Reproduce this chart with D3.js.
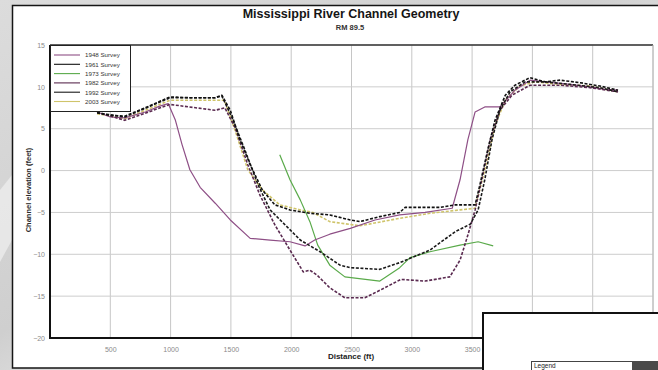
<!DOCTYPE html>
<html><head><meta charset="utf-8">
<script src="https://cdn.jsdelivr.net/npm/d3@7"></script>
<style>
html,body{margin:0;padding:0;}
body{width:658px;height:370px;overflow:hidden;background:#d4d4d4;}
svg{display:block;font-family:"Liberation Sans",Arial,sans-serif;}
</style></head><body>
<svg id="chart" width="658" height="370"></svg>
<script>
// Survey cross-sections: [distance (ft), channel elevation (ft)]
const seriesNames = ["1948 Survey", "1961 Survey", "1973 Survey", "1982 Survey", "1992 Survey", "2003 Survey"];
const seriesColors = ["#8e4f86", "#111111", "#5aaa4a", "#5a2a50", "#1a1a1a", "#cfc46a"];
const seriesDash = [null, "3,1.6", null, "3,1.6", "3,1.6", "3,1.6"];

const survey1948 = [[390,7.0],[500,6.4],[620,6.3],[790,7.0],[910,7.7],[980,8.0],[1040,6.0],[1095,3.1],[1160,0.1],[1245,-2.0],[1370,-3.9],[1495,-5.9],[1660,-8.1],[1825,-8.3],[1990,-8.5],[2115,-9.0],[2195,-8.3],[2320,-7.6],[2490,-6.9],[2695,-5.9],[2900,-5.3],[3110,-5.0],[3335,-4.5],[3400,-1.1],[3465,3.7],[3525,7.0],[3605,7.6],[3730,7.6],[3855,9.6],[3980,10.8],[4105,10.6],[4310,10.3],[4480,10.0],[4600,9.7],[4710,9.6]];
const survey1961 = [[390,6.9],[500,6.6],[620,6.5],[790,7.5],[995,8.8],[1160,8.7],[1370,8.7],[1425,9.0],[1495,7.2],[1575,3.7],[1660,0.7],[1760,-2.3],[1865,-4.1],[1990,-4.7],[2155,-5.1],[2320,-5.3],[2490,-5.9],[2570,-6.1],[2735,-5.5],[2900,-5.0],[2945,-4.4],[3070,-4.4],[3235,-4.4],[3360,-4.1],[3525,-4.1],[3565,-1.7],[3630,2.5],[3690,6.0],[3775,9.0],[3855,10.2],[3980,11.1],[4105,10.6],[4230,10.8],[4395,10.5],[4560,10.1],[4710,9.6]];
const survey1973 = [[1905,1.9],[1990,-1.1],[2075,-3.5],[2155,-6.1],[2220,-8.9],[2320,-11.3],[2445,-12.7],[2735,-13.2],[2900,-11.6],[2985,-10.4],[3150,-9.7],[3400,-8.9],[3550,-8.5],[3675,-9.0]];
const survey1982 = [[390,7.0],[620,6.0],[995,7.9],[1370,7.2],[1450,7.5],[1535,5.1],[1640,0.7],[1740,-2.9],[1865,-6.5],[1990,-9.5],[2100,-12.1],[2155,-11.9],[2215,-12.5],[2320,-14.0],[2445,-15.2],[2610,-15.2],[2735,-14.3],[2910,-13.0],[3110,-13.2],[3315,-12.7],[3400,-10.7],[3465,-7.7],[3525,-4.7],[3580,-1.1],[3650,3.7],[3730,7.2],[3830,9.0],[3980,10.2],[4230,10.2],[4480,9.9],[4710,9.4]];
const survey1992 = [[390,6.9],[620,6.4],[995,8.7],[1370,8.7],[1425,8.9],[1510,6.3],[1615,2.5],[1725,-1.7],[1825,-4.7],[1950,-6.5],[2075,-8.3],[2240,-9.7],[2405,-11.3],[2490,-11.6],[2735,-11.8],[2900,-11.0],[3150,-9.5],[3360,-7.3],[3485,-6.4],[3550,-4.7],[3605,-1.1],[3665,3.7],[3730,7.2],[3815,9.4],[3940,10.6],[4105,10.6],[4310,10.3],[4560,9.9],[4710,9.4]];
const survey2003 = [[390,6.8],[620,6.2],[995,8.4],[1370,8.4],[1445,8.4],[1535,4.8],[1640,0.1],[1760,-2.3],[1905,-4.1],[2075,-4.7],[2180,-5.0],[2320,-6.1],[2570,-6.6],[2900,-5.7],[3150,-5.1],[3400,-4.7],[3525,-4.5],[3605,0.1],[3690,5.4],[3775,8.4],[3895,10.1],[4020,10.6],[4230,10.3],[4480,10.1],[4710,9.4]];

const xTicks = [500,1000,1500,2000,2500,3000,3500,4000,4500,5000];
const xTickLabels = [500,1000,1500,2000,2500,3000,3500];
const yTicks = [15,10,5,0,-5,-10,-15,-20];

const allSeries = [survey1948, survey1961, survey1973, survey1982, survey1992, survey2003];
// draw order: lighter lines first so the dark dashed ones sit on top
const drawOrder = [5, 2, 0, 3, 4, 1];

const svg = d3.select("#chart");
const W = 658, H = 370;
const plot = {left: 50, right: 653, top: 45, bottom: 338};

// desktop-style backdrop
const defs = svg.append("defs");
const bg = defs.append("linearGradient").attr("id", "bg")
  .attr("x1", 0).attr("y1", 0).attr("x2", 1).attr("y2", 1);
bg.append("stop").attr("offset", "0%").attr("stop-color", "#dcdcdc");
bg.append("stop").attr("offset", "45%").attr("stop-color", "#cfcfcf");
bg.append("stop").attr("offset", "60%").attr("stop-color", "#e4e4e4");
bg.append("stop").attr("offset", "100%").attr("stop-color", "#c9c9c9");
svg.append("rect").attr("width", W).attr("height", H).attr("fill", "url(#bg)");
svg.append("path").attr("d", "M0,190 L12,175 L12,240 L0,262 Z").attr("fill", "#ececec").attr("opacity", 0.8);

// chart window
svg.append("rect").attr("x", 12.5).attr("y", 5.5).attr("width", 660).attr("height", 362.5)
  .attr("fill", "#ffffff").attr("stroke", "#151515").attr("stroke-width", 1.5);

const x = d3.scaleLinear().domain([0, 5000]).range([plot.left, plot.right]);
const y = d3.scaleLinear().domain([-20, 15]).range([plot.bottom, plot.top]);

// grid
const grid = svg.append("g");
grid.selectAll("line.v").data(xTicks).join("line").attr("class", "v")
  .attr("x1", d => x(d)).attr("x2", d => x(d)).attr("y1", plot.top).attr("y2", plot.bottom)
  .attr("stroke", "#c6c6c6").attr("stroke-width", 1);
grid.selectAll("line.h").data(yTicks).join("line").attr("class", "h")
  .attr("y1", d => y(d)).attr("y2", d => y(d)).attr("x1", plot.left).attr("x2", plot.right)
  .attr("stroke", "#cdcdcd").attr("stroke-width", 1);

// axes (labels only, frame lines drawn separately)
const xAxis = svg.append("g").attr("transform", `translate(0,${plot.bottom})`)
  .call(d3.axisBottom(x).tickValues(xTickLabels).tickSize(0).tickPadding(9).tickFormat(d3.format("d")));
xAxis.select(".domain").remove();
xAxis.selectAll("text").attr("font-size", 7).attr("fill", "#8a8a8a").attr("font-family", "Liberation Sans, Arial, sans-serif");

const yAxis = svg.append("g").attr("transform", `translate(${plot.left},0)`)
  .call(d3.axisLeft(y).tickValues(yTicks).tickSize(0).tickPadding(5).tickFormat(d3.format("d")));
yAxis.select(".domain").remove();
yAxis.selectAll("text").attr("font-size", 7).attr("fill", "#8a8a8a").attr("font-family", "Liberation Sans, Arial, sans-serif");

// plot frame
svg.append("line").attr("x1", plot.left).attr("x2", plot.right).attr("y1", plot.top).attr("y2", plot.top)
  .attr("stroke", "#333").attr("stroke-width", 1.5);
svg.append("line").attr("x1", plot.right).attr("x2", plot.right).attr("y1", plot.top).attr("y2", plot.bottom)
  .attr("stroke", "#b8b8b8").attr("stroke-width", 1);
svg.append("line").attr("x1", plot.left).attr("x2", plot.left).attr("y1", plot.top).attr("y2", plot.bottom + 1)
  .attr("stroke", "#111").attr("stroke-width", 2);
svg.append("line").attr("x1", plot.left - 1).attr("x2", plot.right).attr("y1", plot.bottom).attr("y2", plot.bottom)
  .attr("stroke", "#111").attr("stroke-width", 2);

// survey lines
const line = d3.line().x(d => x(d[0])).y(d => y(d[1])).curve(d3.curveLinear);
svg.append("g").selectAll("path").data(drawOrder).join("path")
  .attr("d", i => line(allSeries[i]))
  .attr("fill", "none")
  .attr("stroke", i => seriesColors[i])
  .attr("stroke-width", i => seriesDash[i] ? 1.6 : 1.2)
  .attr("stroke-dasharray", i => seriesDash[i])
  .attr("stroke-linejoin", "round");

// titles
svg.append("text").attr("x", 351).attr("y", 18).attr("text-anchor", "middle")
  .attr("font-size", 12.5).attr("font-weight", "bold").attr("fill", "#151515")
  .text("Mississippi River Channel Geometry");
svg.append("text").attr("x", 350).attr("y", 30).attr("text-anchor", "middle")
  .attr("font-size", 7.5).attr("font-weight", "bold").attr("fill", "#333")
  .text("RM 89.5");
svg.append("text").attr("x", 351).attr("y", 359).attr("text-anchor", "middle")
  .attr("font-size", 8).attr("font-weight", "bold").attr("fill", "#222")
  .text("Distance (ft)");
svg.append("text").attr("transform", "translate(31,190) rotate(-90)").attr("text-anchor", "middle")
  .attr("font-size", 7.5).attr("font-weight", "bold").attr("fill", "#2a2a2a")
  .text("Channel elevation (feet)");

// legend
const lg = svg.append("g");
lg.append("rect").attr("x", 50.5).attr("y", 45.5).attr("width", 80).attr("height", 66)
  .attr("fill", "#fff").attr("stroke", "#222").attr("stroke-width", 1);
const legendRows = lg.selectAll("g.row").data(seriesNames).join("g").attr("class", "row")
  .attr("transform", (d, i) => `translate(0,${55 + i * 9.3})`);
legendRows.append("line").attr("x1", 54).attr("x2", 80).attr("y1", 0).attr("y2", 0)
  .attr("stroke", (d, i) => seriesColors[i]).attr("stroke-width", 1.1);
legendRows.append("text").attr("x", 85).attr("y", 2.3).attr("font-size", 6.2)
  .attr("fill", "#333").text(d => d);

// overlapping legend panel in the lower right
const panel = svg.append("g");
panel.append("rect").attr("x", 483).attr("y", 313).attr("width", 190).attr("height", 70)
  .attr("fill", "#fff").attr("stroke", "#111").attr("stroke-width", 2);
panel.append("rect").attr("x", 531.5).attr("y", 361.5).attr("width", 101).attr("height", 14)
  .attr("fill", "#fff").attr("stroke", "#444").attr("stroke-width", 1);
panel.append("rect").attr("x", 632).attr("y", 361).attr("width", 30).attr("height", 14)
  .attr("fill", "#4a4a4a");
panel.append("text").attr("x", 534).attr("y", 367.5).attr("font-size", 6.5)
  .attr("fill", "#222").text("Legend");
</script>
</body></html>
